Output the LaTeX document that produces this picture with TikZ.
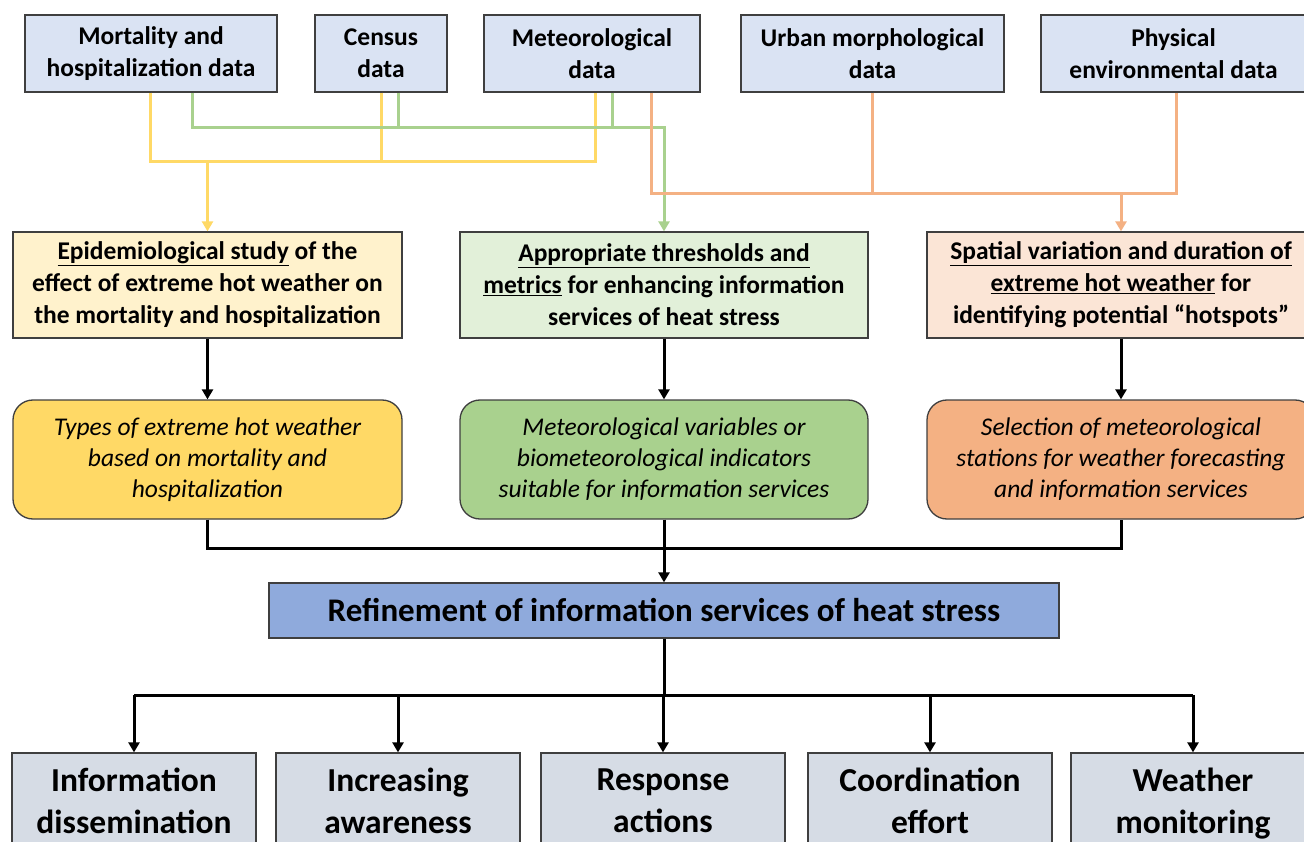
\documentclass[tikz,border=0pt]{standalone}
\usepackage{fontspec}
\setmainfont{Carlito}
\usetikzlibrary{arrows.meta}
\definecolor{topfill}{HTML}{DAE3F3}
\definecolor{bordc}{HTML}{3F3F3F}
\definecolor{ylc}{HTML}{FFD966}
\definecolor{glc}{HTML}{A9D18E}
\definecolor{olc}{HTML}{F4B183}
\definecolor{yfill}{HTML}{FFF2CC}
\definecolor{gfill}{HTML}{E2F0D9}
\definecolor{ofill}{HTML}{FBE5D6}
\definecolor{reffill}{HTML}{8FAADC}
\definecolor{botfill}{HTML}{D6DCE5}
\tikzset{
  box/.style={draw=bordc, line width=1.3pt, inner sep=0pt, align=center, text=black},
  topbox/.style={box, fill=topfill, minimum height=77pt, font=\fontsize{25.5}{32}\selectfont\bfseries},
  midbox/.style={box, minimum width=389pt, minimum height=106pt, font=\fontsize{25.5}{32}\selectfont\bfseries},
  rbox/.style={box, rounded corners=20pt, minimum width=389pt, minimum height=119pt, font=\fontsize{25.5}{31}\selectfont\itshape},
  botbox/.style={box, fill=botfill, minimum width=244pt, minimum height=96pt, font=\fontsize{33.5}{42}\selectfont\bfseries},
  conn/.style={line width=3pt},
  yl/.style={conn, draw=ylc},
  gl/.style={conn, draw=glc},
  ol/.style={conn, draw=olc},
  bk/.style={conn, draw=black},
  tip/.style={-{Triangle[length=10pt,width=11pt]}}
}
\begin{document}
\begin{tikzpicture}[x=1pt,y=-1pt]
\useasboundingbox (0,0) rectangle (1304,842);
\clip (0,0) rectangle (1304,842);
\fill[white] (0,0) rectangle (1304,842);
% top row
\node[topbox, minimum width=252pt] (mort) at (151,53.5) {Mortality and\\hospitalization data};
\node[topbox, minimum width=132pt] (census) at (381,53.5) {Census\\data};
\node[topbox, minimum width=216pt] (meteo) at (592,53.5) {Meteorological\\data};
\node[topbox, minimum width=263pt] (urban) at (872.5,53.5) {Urban morphological\\data};
\node[topbox, minimum width=265pt] (phys) at (1173.5,53.5) {Physical\\environmental data};
% second row
\node[midbox, fill=yfill] (epi) at (207.5,285) {\underline{Epidemiological study} of the\\effect of extreme hot weather on\\the mortality and hospitalization};
\node[midbox, fill=gfill, minimum width=408pt] (thr) at (664,285) {\underline{Appropriate thresholds and}\\\underline{metrics} for enhancing information\\services of heat stress};
\node[midbox, fill=ofill, minimum width=388pt] (spa) at (1121,285) {\underline{Spatial variation and duration of}\\\underline{extreme hot weather} for\\identifying potential “hotspots”};
% third row
\node[rbox, fill=ylc] (types) at (207.5,459.5) {Types of extreme hot weather\\based on mortality and\\hospitalization};
\node[rbox, fill=glc, minimum width=408pt] (metv) at (664,459.5) {Meteorological variables or\\biometeorological indicators\\suitable for information services};
\node[rbox, fill=olc, minimum width=388pt] (sel) at (1121,459.5) {Selection of meteorological\\stations for weather forecasting\\and information services};
% refinement
\node[box, fill=reffill, minimum width=790pt, minimum height=55pt, font=\fontsize{33}{36}\selectfont\bfseries] (ref) at (664,610.5) {Refinement of information services of heat stress};
% bottom row
\node[botbox] (b1) at (134,801) {Information\\dissemination};
\node[botbox] (b2) at (398,801) {Increasing\\awareness};
\node[botbox] (b3) at (663,801) {Response\\actions};
\node[botbox] (b4) at (930,801) {Coordination\\effort};
\node[botbox] (b5) at (1193,801) {Weather\\\smash{monitoring}};
% bus coordinates
\coordinate (gbus) at (0,128);
\coordinate (ybus) at (0,162);
\coordinate (obus) at (0,194);
\coordinate (kbus) at (0,548);
\coordinate (bbus) at (0,695);
% yellow
\draw[yl] ([xshift=-1pt]mort.south) |- ([xshift=3pt]meteo.south |- ybus) -- ([xshift=3pt]meteo.south);
\draw[yl] (census.south) -- (census.south |- ybus);
\draw[yl, tip] (epi.north |- ybus) -- (epi.north);
% green
\draw[gl, tip] ([xshift=41pt]mort.south) |- (thr.north |- gbus) -- (thr.north);
\draw[gl] ([xshift=17pt]census.south) -- ([xshift=17pt]census.south |- gbus);
\draw[gl] ([xshift=20pt]meteo.south) -- ([xshift=20pt]meteo.south |- gbus);
% orange
\draw[ol] ([xshift=59pt]meteo.south) |- ([xshift=2.5pt]phys.south |- obus) -- ([xshift=2.5pt]phys.south);
\draw[ol] (urban.south) -- (urban.south |- obus);
\draw[ol, tip] (spa.north |- obus) -- (spa.north);
% black
\draw[bk, tip] (epi.south) -- (types.north);
\draw[bk, tip] (thr.south) -- (metv.north);
\draw[bk, tip] (spa.south) -- (sel.north);
\draw[bk] (types.south) |- (sel.south |- kbus) -- (sel.south);
\draw[bk] (metv.south) -- (metv.south |- kbus);
\draw[bk, tip] (metv.south |- kbus) -- (ref.north);
\draw[bk] (ref.south) -- (ref.south |- bbus);
\draw[bk] (b1.north |- bbus) -- (b5.north |- bbus);
\foreach \b in {b1,b2,b3,b4,b5} {
  \draw[bk, tip] (\b.north |- bbus) -- (\b.north);
}
\end{tikzpicture}
\end{document}
